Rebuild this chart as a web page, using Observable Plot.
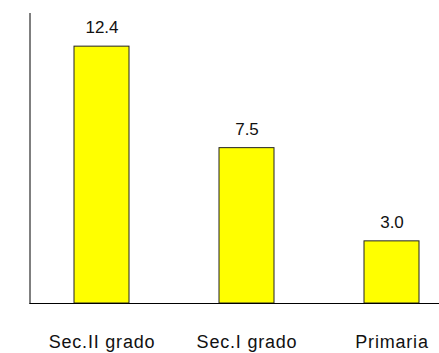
<!DOCTYPE html>
<html>
<head>
<meta charset="utf-8">
<script src="https://cdn.jsdelivr.net/npm/d3@7"></script>
<script src="https://cdn.jsdelivr.net/npm/@observablehq/plot@0.6"></script>
<style>
  html, body { margin: 0; padding: 0; background: #fff; }
  #chart svg { display: block; }
  #chart [aria-label="x-axis tick label"] text { letter-spacing: 0.8px; }
</style>
</head>
<body>
<div id="chart"></div>
<script>
// School levels and their values
const categories = ["Sec.II grado", "Sec.I grado", "Primaria"];
const values = [12.4, 7.5, 3.0];

const rows = categories.map((c, i) => ({level: c, value: values[i]}));

const chart = Plot.plot({
  width: 439,
  height: 353,
  marginTop: 13,
  marginBottom: 50,
  marginLeft: 29.5,
  marginRight: 0,
  style: {fontFamily: "'Liberation Sans', Arial, sans-serif", background: "#fff", color: "#111"},
  x: {domain: categories, paddingInner: 0.619, paddingOuter: 0.2215, align: 0.692, label: null},
  y: {domain: [0, 14], axis: null},
  marks: [
    Plot.barY(rows, {x: "level", y: "value", fill: "#ffff00", stroke: "#222", strokeWidth: 1}),
    Plot.text(rows, {x: "level", y: "value", text: d => d.value.toFixed(1), dy: -19, fontSize: 17, fill: "#111"}),
    Plot.frame({anchor: "left", stroke: "#000"}),
    Plot.ruleY([0], {stroke: "#000"}),
    Plot.axisX({tickSize: 0, tickPadding: 32, fontSize: 18, label: null})
  ]
});
document.getElementById("chart").appendChild(chart);
</script>
</body>
</html>
